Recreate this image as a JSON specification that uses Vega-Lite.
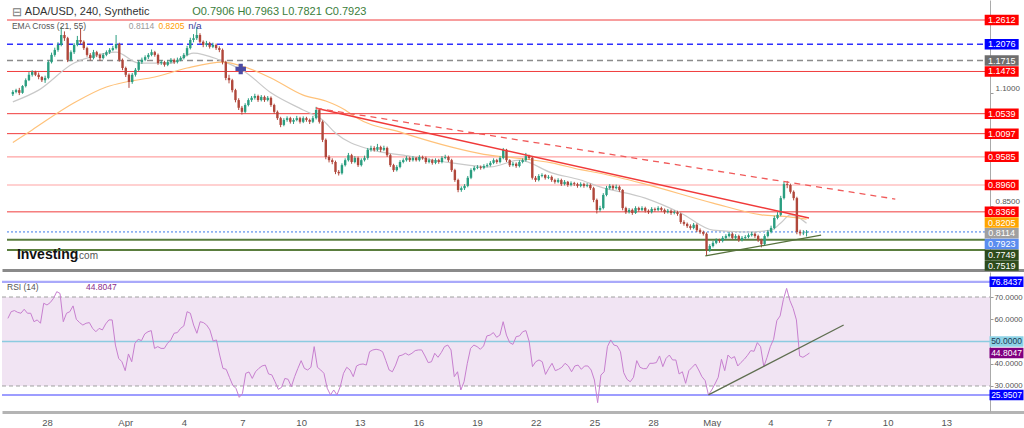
{
"$schema":"https://vega.github.io/schema/vega-lite/v6.json",
"padding":0,"background":"white","spacing":2,"bounds":"flush",
"resolve":{"scale":{"stroke":"independent","fill":"independent","strokeWidth":"independent","strokeDash":"independent","color":"independent"}},
"config":{"view":{"stroke":null},"font":"Liberation Sans","axis":{"grid":false}},
"datasets":{
"candles":[
{"t":"2018-03-26T00:00","o":1.097,"h":1.106,"l":1.093,"c":1.102,"r":60.4},
{"t":"2018-03-26T04:00","o":1.102,"h":1.109,"l":1.099,"c":1.106,"r":63.4},
{"t":"2018-03-26T08:00","o":1.106,"h":1.111,"l":1.095,"c":1.100,"r":63.9},
{"t":"2018-03-26T12:00","o":1.100,"h":1.117,"l":1.098,"c":1.115,"r":63.1},
{"t":"2018-03-26T16:00","o":1.115,"h":1.132,"l":1.112,"c":1.128,"r":62.7},
{"t":"2018-03-26T20:00","o":1.128,"h":1.146,"l":1.126,"c":1.140,"r":64.5},
{"t":"2018-03-27T00:00","o":1.140,"h":1.150,"l":1.136,"c":1.146,"r":62.7},
{"t":"2018-03-27T04:00","o":1.146,"h":1.149,"l":1.137,"c":1.140,"r":62.7},
{"t":"2018-03-27T08:00","o":1.140,"h":1.145,"l":1.130,"c":1.135,"r":58.9},
{"t":"2018-03-27T12:00","o":1.135,"h":1.137,"l":1.124,"c":1.128,"r":59.7},
{"t":"2018-03-27T16:00","o":1.128,"h":1.138,"l":1.122,"c":1.133,"r":58.2},
{"t":"2018-03-27T20:00","o":1.133,"h":1.172,"l":1.130,"c":1.168,"r":67.2},
{"t":"2018-03-28T00:00","o":1.168,"h":1.189,"l":1.165,"c":1.184,"r":66.4},
{"t":"2018-03-28T04:00","o":1.184,"h":1.200,"l":1.180,"c":1.195,"r":67.5},
{"t":"2018-03-28T08:00","o":1.195,"h":1.212,"l":1.191,"c":1.206,"r":69.4},
{"t":"2018-03-28T12:00","o":1.206,"h":1.246,"l":1.203,"c":1.228,"r":72.4},
{"t":"2018-03-28T16:00","o":1.228,"h":1.236,"l":1.215,"c":1.221,"r":71.6},
{"t":"2018-03-28T20:00","o":1.221,"h":1.224,"l":1.168,"c":1.173,"r":58.9},
{"t":"2018-03-29T00:00","o":1.173,"h":1.194,"l":1.170,"c":1.190,"r":62.7},
{"t":"2018-03-29T04:00","o":1.190,"h":1.210,"l":1.186,"c":1.206,"r":63.4},
{"t":"2018-03-29T08:00","o":1.206,"h":1.226,"l":1.203,"c":1.217,"r":66.0},
{"t":"2018-03-29T12:00","o":1.217,"h":1.243,"l":1.208,"c":1.213,"r":60.0},
{"t":"2018-03-29T16:00","o":1.213,"h":1.216,"l":1.195,"c":1.199,"r":58.5},
{"t":"2018-03-29T20:00","o":1.199,"h":1.202,"l":1.180,"c":1.184,"r":57.4},
{"t":"2018-03-30T00:00","o":1.184,"h":1.188,"l":1.172,"c":1.177,"r":58.2},
{"t":"2018-03-30T04:00","o":1.177,"h":1.195,"l":1.174,"c":1.190,"r":58.5},
{"t":"2018-03-30T08:00","o":1.190,"h":1.193,"l":1.179,"c":1.184,"r":55.9},
{"t":"2018-03-30T12:00","o":1.184,"h":1.187,"l":1.171,"c":1.177,"r":54.4},
{"t":"2018-03-30T16:00","o":1.177,"h":1.188,"l":1.174,"c":1.184,"r":55.9},
{"t":"2018-03-30T20:00","o":1.184,"h":1.194,"l":1.181,"c":1.190,"r":55.2},
{"t":"2018-03-31T00:00","o":1.190,"h":1.199,"l":1.186,"c":1.195,"r":57.9},
{"t":"2018-03-31T04:00","o":1.195,"h":1.204,"l":1.192,"c":1.199,"r":59.7},
{"t":"2018-03-31T08:00","o":1.199,"h":1.228,"l":1.196,"c":1.208,"r":59.7},
{"t":"2018-03-31T12:00","o":1.208,"h":1.211,"l":1.169,"c":1.173,"r":48.4},
{"t":"2018-03-31T16:00","o":1.173,"h":1.176,"l":1.150,"c":1.155,"r":42.4},
{"t":"2018-03-31T20:00","o":1.155,"h":1.158,"l":1.135,"c":1.140,"r":40.9},
{"t":"2018-04-01T00:00","o":1.140,"h":1.143,"l":1.111,"c":1.124,"r":36.9},
{"t":"2018-04-01T04:00","o":1.124,"h":1.144,"l":1.120,"c":1.140,"r":44.4},
{"t":"2018-04-01T08:00","o":1.140,"h":1.155,"l":1.136,"c":1.151,"r":40.9},
{"t":"2018-04-01T12:00","o":1.151,"h":1.172,"l":1.148,"c":1.168,"r":49.2},
{"t":"2018-04-01T16:00","o":1.168,"h":1.178,"l":1.164,"c":1.173,"r":51.0},
{"t":"2018-04-01T20:00","o":1.173,"h":1.183,"l":1.170,"c":1.179,"r":50.4},
{"t":"2018-04-02T00:00","o":1.179,"h":1.188,"l":1.175,"c":1.184,"r":53.4},
{"t":"2018-04-02T04:00","o":1.184,"h":1.196,"l":1.181,"c":1.190,"r":54.4},
{"t":"2018-04-02T08:00","o":1.190,"h":1.193,"l":1.180,"c":1.184,"r":54.9},
{"t":"2018-04-02T12:00","o":1.184,"h":1.187,"l":1.162,"c":1.166,"r":46.9},
{"t":"2018-04-02T16:00","o":1.166,"h":1.172,"l":1.162,"c":1.168,"r":47.7},
{"t":"2018-04-02T20:00","o":1.168,"h":1.171,"l":1.158,"c":1.162,"r":46.9},
{"t":"2018-04-03T00:00","o":1.162,"h":1.172,"l":1.159,"c":1.168,"r":46.9},
{"t":"2018-04-03T04:00","o":1.168,"h":1.177,"l":1.165,"c":1.173,"r":49.2},
{"t":"2018-04-03T08:00","o":1.173,"h":1.176,"l":1.164,"c":1.168,"r":50.7},
{"t":"2018-04-03T12:00","o":1.168,"h":1.178,"l":1.165,"c":1.173,"r":53.7},
{"t":"2018-04-03T16:00","o":1.173,"h":1.181,"l":1.170,"c":1.177,"r":54.0},
{"t":"2018-04-03T20:00","o":1.177,"h":1.188,"l":1.174,"c":1.184,"r":55.9},
{"t":"2018-04-04T00:00","o":1.184,"h":1.204,"l":1.181,"c":1.199,"r":57.0},
{"t":"2018-04-04T04:00","o":1.199,"h":1.222,"l":1.196,"c":1.217,"r":63.4},
{"t":"2018-04-04T08:00","o":1.217,"h":1.230,"l":1.212,"c":1.221,"r":62.7},
{"t":"2018-04-04T12:00","o":1.221,"h":1.246,"l":1.217,"c":1.228,"r":57.4},
{"t":"2018-04-04T16:00","o":1.228,"h":1.232,"l":1.209,"c":1.213,"r":53.7},
{"t":"2018-04-04T20:00","o":1.213,"h":1.216,"l":1.201,"c":1.206,"r":58.9},
{"t":"2018-04-05T00:00","o":1.206,"h":1.215,"l":1.202,"c":1.210,"r":58.5},
{"t":"2018-04-05T04:00","o":1.210,"h":1.213,"l":1.198,"c":1.202,"r":57.4},
{"t":"2018-04-05T08:00","o":1.202,"h":1.211,"l":1.199,"c":1.206,"r":55.2},
{"t":"2018-04-05T12:00","o":1.206,"h":1.209,"l":1.195,"c":1.199,"r":50.2},
{"t":"2018-04-05T16:00","o":1.199,"h":1.203,"l":1.190,"c":1.195,"r":50.7},
{"t":"2018-04-05T20:00","o":1.195,"h":1.198,"l":1.163,"c":1.168,"r":43.9},
{"t":"2018-04-06T00:00","o":1.168,"h":1.171,"l":1.128,"c":1.133,"r":37.9},
{"t":"2018-04-06T04:00","o":1.133,"h":1.140,"l":1.121,"c":1.128,"r":37.5},
{"t":"2018-04-06T08:00","o":1.128,"h":1.131,"l":1.101,"c":1.106,"r":33.9},
{"t":"2018-04-06T12:00","o":1.106,"h":1.109,"l":1.079,"c":1.084,"r":30.4},
{"t":"2018-04-06T16:00","o":1.084,"h":1.088,"l":1.062,"c":1.067,"r":28.9},
{"t":"2018-04-06T20:00","o":1.067,"h":1.071,"l":1.052,"c":1.058,"r":24.9},
{"t":"2018-04-07T00:00","o":1.058,"h":1.077,"l":1.055,"c":1.073,"r":26.7},
{"t":"2018-04-07T04:00","o":1.073,"h":1.088,"l":1.070,"c":1.084,"r":35.7},
{"t":"2018-04-07T08:00","o":1.084,"h":1.093,"l":1.080,"c":1.089,"r":36.3},
{"t":"2018-04-07T12:00","o":1.089,"h":1.098,"l":1.085,"c":1.093,"r":33.4},
{"t":"2018-04-07T16:00","o":1.093,"h":1.096,"l":1.080,"c":1.084,"r":36.4},
{"t":"2018-04-07T20:00","o":1.084,"h":1.095,"l":1.081,"c":1.091,"r":37.9},
{"t":"2018-04-08T00:00","o":1.091,"h":1.094,"l":1.080,"c":1.084,"r":39.0},
{"t":"2018-04-08T04:00","o":1.084,"h":1.093,"l":1.081,"c":1.089,"r":39.4},
{"t":"2018-04-08T08:00","o":1.089,"h":1.092,"l":1.069,"c":1.073,"r":35.4},
{"t":"2018-04-08T12:00","o":1.073,"h":1.076,"l":1.054,"c":1.058,"r":35.0},
{"t":"2018-04-08T16:00","o":1.058,"h":1.061,"l":1.040,"c":1.044,"r":31.9},
{"t":"2018-04-08T20:00","o":1.044,"h":1.047,"l":1.024,"c":1.029,"r":28.5},
{"t":"2018-04-09T00:00","o":1.029,"h":1.044,"l":1.026,"c":1.040,"r":29.4},
{"t":"2018-04-09T04:00","o":1.040,"h":1.048,"l":1.036,"c":1.044,"r":33.4},
{"t":"2018-04-09T08:00","o":1.044,"h":1.047,"l":1.032,"c":1.036,"r":33.0},
{"t":"2018-04-09T12:00","o":1.036,"h":1.044,"l":1.031,"c":1.040,"r":29.7},
{"t":"2018-04-09T16:00","o":1.040,"h":1.049,"l":1.037,"c":1.044,"r":34.2},
{"t":"2018-04-09T20:00","o":1.044,"h":1.047,"l":1.032,"c":1.036,"r":37.9},
{"t":"2018-04-10T00:00","o":1.036,"h":1.048,"l":1.033,"c":1.044,"r":41.4},
{"t":"2018-04-10T04:00","o":1.044,"h":1.047,"l":1.036,"c":1.040,"r":37.9},
{"t":"2018-04-10T08:00","o":1.040,"h":1.043,"l":1.031,"c":1.036,"r":37.2},
{"t":"2018-04-10T12:00","o":1.036,"h":1.049,"l":1.033,"c":1.044,"r":38.4},
{"t":"2018-04-10T16:00","o":1.044,"h":1.069,"l":1.041,"c":1.062,"r":47.7},
{"t":"2018-04-10T20:00","o":1.062,"h":1.065,"l":1.032,"c":1.036,"r":38.4},
{"t":"2018-04-11T00:00","o":1.036,"h":1.039,"l":0.991,"c":0.996,"r":37.2},
{"t":"2018-04-11T04:00","o":0.996,"h":0.999,"l":0.953,"c":0.958,"r":35.7},
{"t":"2018-04-11T08:00","o":0.958,"h":0.962,"l":0.946,"c":0.951,"r":29.0},
{"t":"2018-04-11T12:00","o":0.951,"h":0.955,"l":0.942,"c":0.947,"r":26.0},
{"t":"2018-04-11T16:00","o":0.947,"h":0.950,"l":0.920,"c":0.925,"r":28.2},
{"t":"2018-04-11T20:00","o":0.925,"h":0.929,"l":0.917,"c":0.922,"r":26.0},
{"t":"2018-04-12T00:00","o":0.922,"h":0.944,"l":0.919,"c":0.940,"r":29.7},
{"t":"2018-04-12T04:00","o":0.940,"h":0.955,"l":0.937,"c":0.951,"r":35.7},
{"t":"2018-04-12T08:00","o":0.951,"h":0.967,"l":0.948,"c":0.962,"r":38.4},
{"t":"2018-04-12T12:00","o":0.962,"h":0.965,"l":0.943,"c":0.947,"r":37.2},
{"t":"2018-04-12T16:00","o":0.947,"h":0.960,"l":0.944,"c":0.956,"r":34.2},
{"t":"2018-04-12T20:00","o":0.956,"h":0.959,"l":0.936,"c":0.940,"r":39.0},
{"t":"2018-04-13T00:00","o":0.940,"h":0.955,"l":0.937,"c":0.951,"r":39.7},
{"t":"2018-04-13T04:00","o":0.951,"h":0.961,"l":0.948,"c":0.956,"r":39.9},
{"t":"2018-04-13T08:00","o":0.956,"h":0.978,"l":0.952,"c":0.974,"r":39.4},
{"t":"2018-04-13T12:00","o":0.974,"h":0.983,"l":0.970,"c":0.978,"r":45.4},
{"t":"2018-04-13T16:00","o":0.978,"h":0.982,"l":0.970,"c":0.974,"r":46.2},
{"t":"2018-04-13T20:00","o":0.974,"h":0.987,"l":0.971,"c":0.980,"r":46.5},
{"t":"2018-04-14T00:00","o":0.980,"h":0.983,"l":0.969,"c":0.974,"r":46.2},
{"t":"2018-04-14T04:00","o":0.974,"h":0.983,"l":0.971,"c":0.978,"r":45.4},
{"t":"2018-04-14T08:00","o":0.978,"h":0.981,"l":0.958,"c":0.962,"r":41.4},
{"t":"2018-04-14T12:00","o":0.962,"h":0.965,"l":0.936,"c":0.940,"r":37.2},
{"t":"2018-04-14T16:00","o":0.940,"h":0.943,"l":0.925,"c":0.929,"r":36.4},
{"t":"2018-04-14T20:00","o":0.929,"h":0.940,"l":0.926,"c":0.936,"r":39.4},
{"t":"2018-04-15T00:00","o":0.936,"h":0.951,"l":0.933,"c":0.947,"r":43.5},
{"t":"2018-04-15T04:00","o":0.947,"h":0.955,"l":0.944,"c":0.951,"r":43.9},
{"t":"2018-04-15T08:00","o":0.951,"h":0.960,"l":0.948,"c":0.956,"r":44.7},
{"t":"2018-04-15T12:00","o":0.956,"h":0.959,"l":0.947,"c":0.951,"r":43.9},
{"t":"2018-04-15T16:00","o":0.951,"h":0.960,"l":0.948,"c":0.956,"r":44.7},
{"t":"2018-04-15T20:00","o":0.956,"h":0.958,"l":0.948,"c":0.951,"r":45.9},
{"t":"2018-04-16T00:00","o":0.951,"h":0.962,"l":0.948,"c":0.958,"r":46.2},
{"t":"2018-04-16T04:00","o":0.958,"h":0.961,"l":0.952,"c":0.956,"r":46.2},
{"t":"2018-04-16T08:00","o":0.956,"h":0.959,"l":0.943,"c":0.947,"r":43.5},
{"t":"2018-04-16T12:00","o":0.947,"h":0.955,"l":0.944,"c":0.951,"r":40.5},
{"t":"2018-04-16T16:00","o":0.951,"h":0.954,"l":0.941,"c":0.945,"r":40.9},
{"t":"2018-04-16T20:00","o":0.945,"h":0.955,"l":0.942,"c":0.951,"r":44.7},
{"t":"2018-04-17T00:00","o":0.951,"h":0.954,"l":0.943,"c":0.947,"r":42.9},
{"t":"2018-04-17T04:00","o":0.947,"h":0.960,"l":0.944,"c":0.956,"r":45.0},
{"t":"2018-04-17T08:00","o":0.956,"h":0.963,"l":0.953,"c":0.958,"r":47.7},
{"t":"2018-04-17T12:00","o":0.958,"h":0.961,"l":0.947,"c":0.951,"r":48.4},
{"t":"2018-04-17T16:00","o":0.951,"h":0.954,"l":0.925,"c":0.929,"r":46.2},
{"t":"2018-04-17T20:00","o":0.929,"h":0.932,"l":0.903,"c":0.907,"r":34.2},
{"t":"2018-04-18T00:00","o":0.907,"h":0.910,"l":0.880,"c":0.885,"r":36.4},
{"t":"2018-04-18T04:00","o":0.885,"h":0.893,"l":0.881,"c":0.889,"r":28.2},
{"t":"2018-04-18T08:00","o":0.889,"h":0.898,"l":0.885,"c":0.894,"r":31.9},
{"t":"2018-04-18T12:00","o":0.894,"h":0.916,"l":0.891,"c":0.912,"r":40.2},
{"t":"2018-04-18T16:00","o":0.912,"h":0.933,"l":0.909,"c":0.929,"r":46.9},
{"t":"2018-04-18T20:00","o":0.929,"h":0.938,"l":0.926,"c":0.934,"r":48.4},
{"t":"2018-04-19T00:00","o":0.934,"h":0.940,"l":0.931,"c":0.936,"r":47.7},
{"t":"2018-04-19T04:00","o":0.936,"h":0.939,"l":0.930,"c":0.934,"r":46.5},
{"t":"2018-04-19T08:00","o":0.934,"h":0.942,"l":0.931,"c":0.938,"r":48.0},
{"t":"2018-04-19T12:00","o":0.938,"h":0.944,"l":0.935,"c":0.940,"r":52.5},
{"t":"2018-04-19T16:00","o":0.940,"h":0.949,"l":0.937,"c":0.945,"r":52.9},
{"t":"2018-04-19T20:00","o":0.945,"h":0.955,"l":0.942,"c":0.951,"r":54.0},
{"t":"2018-04-20T00:00","o":0.951,"h":0.954,"l":0.943,"c":0.947,"r":51.9},
{"t":"2018-04-20T04:00","o":0.947,"h":0.960,"l":0.944,"c":0.956,"r":52.9},
{"t":"2018-04-20T08:00","o":0.956,"h":0.978,"l":0.953,"c":0.974,"r":58.9},
{"t":"2018-04-20T12:00","o":0.974,"h":0.976,"l":0.947,"c":0.951,"r":52.9},
{"t":"2018-04-20T16:00","o":0.951,"h":0.953,"l":0.936,"c":0.940,"r":49.5},
{"t":"2018-04-20T20:00","o":0.940,"h":0.947,"l":0.937,"c":0.943,"r":48.7},
{"t":"2018-04-21T00:00","o":0.943,"h":0.946,"l":0.934,"c":0.938,"r":52.2},
{"t":"2018-04-21T04:00","o":0.938,"h":0.951,"l":0.935,"c":0.947,"r":52.5},
{"t":"2018-04-21T08:00","o":0.947,"h":0.955,"l":0.944,"c":0.951,"r":54.4},
{"t":"2018-04-21T12:00","o":0.951,"h":0.967,"l":0.948,"c":0.960,"r":54.9},
{"t":"2018-04-21T16:00","o":0.960,"h":0.963,"l":0.952,"c":0.956,"r":49.9},
{"t":"2018-04-21T20:00","o":0.956,"h":0.958,"l":0.908,"c":0.912,"r":38.7},
{"t":"2018-04-22T00:00","o":0.912,"h":0.916,"l":0.903,"c":0.907,"r":40.9},
{"t":"2018-04-22T04:00","o":0.907,"h":0.920,"l":0.904,"c":0.916,"r":41.7},
{"t":"2018-04-22T08:00","o":0.916,"h":0.922,"l":0.913,"c":0.918,"r":40.9},
{"t":"2018-04-22T12:00","o":0.918,"h":0.920,"l":0.908,"c":0.912,"r":35.2},
{"t":"2018-04-22T16:00","o":0.912,"h":0.918,"l":0.909,"c":0.914,"r":37.9},
{"t":"2018-04-22T20:00","o":0.914,"h":0.917,"l":0.903,"c":0.907,"r":40.2},
{"t":"2018-04-23T00:00","o":0.907,"h":0.910,"l":0.899,"c":0.903,"r":36.9},
{"t":"2018-04-23T04:00","o":0.903,"h":0.911,"l":0.900,"c":0.907,"r":37.5},
{"t":"2018-04-23T08:00","o":0.907,"h":0.910,"l":0.894,"c":0.898,"r":38.4},
{"t":"2018-04-23T12:00","o":0.898,"h":0.907,"l":0.895,"c":0.903,"r":40.2},
{"t":"2018-04-23T16:00","o":0.903,"h":0.905,"l":0.892,"c":0.896,"r":39.0},
{"t":"2018-04-23T20:00","o":0.896,"h":0.904,"l":0.893,"c":0.900,"r":36.4},
{"t":"2018-04-24T00:00","o":0.900,"h":0.903,"l":0.894,"c":0.898,"r":39.0},
{"t":"2018-04-24T04:00","o":0.898,"h":0.901,"l":0.890,"c":0.894,"r":39.4},
{"t":"2018-04-24T08:00","o":0.894,"h":0.902,"l":0.891,"c":0.898,"r":37.5},
{"t":"2018-04-24T12:00","o":0.898,"h":0.901,"l":0.890,"c":0.894,"r":39.0},
{"t":"2018-04-24T16:00","o":0.894,"h":0.900,"l":0.891,"c":0.896,"r":39.0},
{"t":"2018-04-24T20:00","o":0.896,"h":0.899,"l":0.885,"c":0.889,"r":37.2},
{"t":"2018-04-25T00:00","o":0.889,"h":0.892,"l":0.858,"c":0.863,"r":32.7},
{"t":"2018-04-25T04:00","o":0.863,"h":0.866,"l":0.833,"c":0.841,"r":22.5},
{"t":"2018-04-25T08:00","o":0.841,"h":0.850,"l":0.837,"c":0.845,"r":34.9},
{"t":"2018-04-25T12:00","o":0.845,"h":0.878,"l":0.842,"c":0.874,"r":36.4},
{"t":"2018-04-25T16:00","o":0.874,"h":0.894,"l":0.871,"c":0.889,"r":47.7},
{"t":"2018-04-25T20:00","o":0.889,"h":0.898,"l":0.886,"c":0.894,"r":50.7},
{"t":"2018-04-26T00:00","o":0.894,"h":0.897,"l":0.885,"c":0.889,"r":48.4},
{"t":"2018-04-26T04:00","o":0.889,"h":0.897,"l":0.886,"c":0.892,"r":48.0},
{"t":"2018-04-26T08:00","o":0.892,"h":0.895,"l":0.881,"c":0.885,"r":45.4},
{"t":"2018-04-26T12:00","o":0.885,"h":0.887,"l":0.840,"c":0.845,"r":36.0},
{"t":"2018-04-26T16:00","o":0.845,"h":0.848,"l":0.832,"c":0.836,"r":33.0},
{"t":"2018-04-26T20:00","o":0.836,"h":0.845,"l":0.833,"c":0.841,"r":31.9},
{"t":"2018-04-27T00:00","o":0.841,"h":0.844,"l":0.830,"c":0.834,"r":33.9},
{"t":"2018-04-27T04:00","o":0.834,"h":0.849,"l":0.832,"c":0.845,"r":41.4},
{"t":"2018-04-27T08:00","o":0.845,"h":0.848,"l":0.837,"c":0.841,"r":38.4},
{"t":"2018-04-27T12:00","o":0.841,"h":0.849,"l":0.838,"c":0.845,"r":37.8},
{"t":"2018-04-27T16:00","o":0.845,"h":0.848,"l":0.835,"c":0.839,"r":37.8},
{"t":"2018-04-27T20:00","o":0.839,"h":0.842,"l":0.832,"c":0.836,"r":40.2},
{"t":"2018-04-28T00:00","o":0.836,"h":0.847,"l":0.833,"c":0.843,"r":40.2},
{"t":"2018-04-28T04:00","o":0.843,"h":0.846,"l":0.837,"c":0.841,"r":40.5},
{"t":"2018-04-28T08:00","o":0.841,"h":0.849,"l":0.838,"c":0.845,"r":43.5},
{"t":"2018-04-28T12:00","o":0.845,"h":0.848,"l":0.837,"c":0.841,"r":38.7},
{"t":"2018-04-28T16:00","o":0.841,"h":0.844,"l":0.832,"c":0.836,"r":42.4},
{"t":"2018-04-28T20:00","o":0.836,"h":0.843,"l":0.833,"c":0.839,"r":43.9},
{"t":"2018-04-29T00:00","o":0.839,"h":0.842,"l":0.830,"c":0.834,"r":41.7},
{"t":"2018-04-29T04:00","o":0.834,"h":0.840,"l":0.831,"c":0.836,"r":41.7},
{"t":"2018-04-29T08:00","o":0.836,"h":0.839,"l":0.828,"c":0.832,"r":35.4},
{"t":"2018-04-29T12:00","o":0.832,"h":0.835,"l":0.810,"c":0.814,"r":36.4},
{"t":"2018-04-29T16:00","o":0.814,"h":0.818,"l":0.806,"c":0.810,"r":31.2},
{"t":"2018-04-29T20:00","o":0.810,"h":0.813,"l":0.801,"c":0.805,"r":36.9},
{"t":"2018-04-30T00:00","o":0.805,"h":0.809,"l":0.797,"c":0.801,"r":38.4},
{"t":"2018-04-30T04:00","o":0.801,"h":0.812,"l":0.798,"c":0.808,"r":39.9},
{"t":"2018-04-30T08:00","o":0.808,"h":0.811,"l":0.792,"c":0.796,"r":37.2},
{"t":"2018-04-30T12:00","o":0.796,"h":0.800,"l":0.788,"c":0.792,"r":34.2},
{"t":"2018-04-30T16:00","o":0.792,"h":0.795,"l":0.784,"c":0.788,"r":32.4},
{"t":"2018-04-30T20:00","o":0.788,"h":0.791,"l":0.739,"c":0.752,"r":26.0},
{"t":"2018-05-01T00:00","o":0.752,"h":0.765,"l":0.748,"c":0.761,"r":28.2},
{"t":"2018-05-01T04:00","o":0.761,"h":0.772,"l":0.758,"c":0.768,"r":30.9},
{"t":"2018-05-01T08:00","o":0.768,"h":0.778,"l":0.765,"c":0.774,"r":33.9},
{"t":"2018-05-01T12:00","o":0.774,"h":0.777,"l":0.768,"c":0.772,"r":42.0},
{"t":"2018-05-01T16:00","o":0.772,"h":0.783,"l":0.769,"c":0.779,"r":36.9},
{"t":"2018-05-01T20:00","o":0.779,"h":0.787,"l":0.776,"c":0.783,"r":43.9},
{"t":"2018-05-02T00:00","o":0.783,"h":0.792,"l":0.780,"c":0.788,"r":42.4},
{"t":"2018-05-02T04:00","o":0.788,"h":0.791,"l":0.775,"c":0.779,"r":43.2},
{"t":"2018-05-02T08:00","o":0.779,"h":0.787,"l":0.776,"c":0.783,"r":39.0},
{"t":"2018-05-02T12:00","o":0.783,"h":0.786,"l":0.770,"c":0.774,"r":40.6},
{"t":"2018-05-02T16:00","o":0.774,"h":0.783,"l":0.771,"c":0.779,"r":42.0},
{"t":"2018-05-02T20:00","o":0.779,"h":0.785,"l":0.776,"c":0.781,"r":43.8},
{"t":"2018-05-03T00:00","o":0.781,"h":0.789,"l":0.778,"c":0.785,"r":45.9},
{"t":"2018-05-03T04:00","o":0.785,"h":0.792,"l":0.782,"c":0.788,"r":45.6},
{"t":"2018-05-03T08:00","o":0.788,"h":0.791,"l":0.779,"c":0.783,"r":49.5},
{"t":"2018-05-03T12:00","o":0.783,"h":0.786,"l":0.770,"c":0.774,"r":47.7},
{"t":"2018-05-03T16:00","o":0.774,"h":0.777,"l":0.758,"c":0.765,"r":38.7},
{"t":"2018-05-03T20:00","o":0.765,"h":0.787,"l":0.762,"c":0.783,"r":42.9},
{"t":"2018-05-04T00:00","o":0.783,"h":0.796,"l":0.780,"c":0.792,"r":47.7},
{"t":"2018-05-04T04:00","o":0.792,"h":0.806,"l":0.789,"c":0.801,"r":51.0},
{"t":"2018-05-04T08:00","o":0.801,"h":0.828,"l":0.798,"c":0.823,"r":59.4},
{"t":"2018-05-04T12:00","o":0.823,"h":0.836,"l":0.820,"c":0.830,"r":61.5},
{"t":"2018-05-04T16:00","o":0.830,"h":0.872,"l":0.827,"c":0.867,"r":68.9},
{"t":"2018-05-04T20:00","o":0.867,"h":0.903,"l":0.864,"c":0.898,"r":73.9},
{"t":"2018-05-05T00:00","o":0.898,"h":0.905,"l":0.889,"c":0.896,"r":68.4},
{"t":"2018-05-05T04:00","o":0.896,"h":0.899,"l":0.877,"c":0.881,"r":64.9},
{"t":"2018-05-05T08:00","o":0.881,"h":0.884,"l":0.862,"c":0.867,"r":59.7},
{"t":"2018-05-05T12:00","o":0.867,"h":0.870,"l":0.787,"c":0.792,"r":43.5},
{"t":"2018-05-05T16:00","o":0.792,"h":0.797,"l":0.784,"c":0.789,"r":42.9},
{"t":"2018-05-05T20:00","o":0.789,"h":0.796,"l":0.785,"c":0.7906,"r":43.8},
{"t":"2018-05-06T00:00","o":0.7906,"h":0.7963,"l":0.7821,"c":0.7923,"r":44.8047}
],
"ema21":[
{"t":"2018-03-26T00:00","v":1.080},{"t":"2018-03-27T08:00","v":1.106},{"t":"2018-03-29T04:00","v":1.166},{"t":"2018-03-30T00:00","v":1.179},{"t":"2018-03-31T08:00","v":1.190},{"t":"2018-04-01T12:00","v":1.166},{"t":"2018-04-03T04:00","v":1.166},{"t":"2018-04-04T08:00","v":1.188},{"t":"2018-04-05T16:00","v":1.173},{"t":"2018-04-07T00:00","v":1.146},{"t":"2018-04-08T08:00","v":1.100},{"t":"2018-04-10T00:00","v":1.062},{"t":"2018-04-11T00:00","v":1.040},{"t":"2018-04-11T16:00","v":1.011},{"t":"2018-04-13T12:00","v":0.974},{"t":"2018-04-15T04:00","v":0.962},{"t":"2018-04-17T16:00","v":0.945},{"t":"2018-04-19T16:00","v":0.936},{"t":"2018-04-21T04:00","v":0.951},{"t":"2018-04-22T20:00","v":0.923},{"t":"2018-04-24T08:00","v":0.907},{"t":"2018-04-25T08:00","v":0.892},{"t":"2018-04-27T16:00","v":0.867},{"t":"2018-04-29T12:00","v":0.834},{"t":"2018-05-01T04:00","v":0.796},{"t":"2018-05-02T20:00","v":0.792},{"t":"2018-05-04T04:00","v":0.796},{"t":"2018-05-04T16:00","v":0.812},{"t":"2018-05-05T04:00","v":0.830},{"t":"2018-05-05T12:00","v":0.826},{"t":"2018-05-06T00:00","v":0.8114}
],
"ema55":[
{"t":"2018-03-26T00:00","v":0.990},{"t":"2018-03-27T00:00","v":1.018},{"t":"2018-03-29T04:00","v":1.078},{"t":"2018-03-30T20:00","v":1.113},{"t":"2018-03-31T20:00","v":1.124},{"t":"2018-04-02T08:00","v":1.135},{"t":"2018-04-04T00:00","v":1.155},{"t":"2018-04-05T20:00","v":1.168},{"t":"2018-04-07T00:00","v":1.157},{"t":"2018-04-08T08:00","v":1.133},{"t":"2018-04-10T00:00","v":1.095},{"t":"2018-04-11T04:00","v":1.082},{"t":"2018-04-12T04:00","v":1.062},{"t":"2018-04-12T16:00","v":1.047},{"t":"2018-04-15T04:00","v":1.011},{"t":"2018-04-17T16:00","v":0.980},{"t":"2018-04-19T08:00","v":0.964},{"t":"2018-04-21T04:00","v":0.955},{"t":"2018-04-22T20:00","v":0.945},{"t":"2018-04-24T08:00","v":0.930},{"t":"2018-04-25T08:00","v":0.922},{"t":"2018-04-27T16:00","v":0.898},{"t":"2018-05-01T04:00","v":0.856},{"t":"2018-05-03T16:00","v":0.830},{"t":"2018-05-05T00:00","v":0.826},{"t":"2018-05-06T00:00","v":0.8205}
],
"trend":[
{"g":"red","t":"2018-04-10T16:00","p":1.066},{"g":"red","t":"2018-05-06T03:00","p":0.823},
{"g":"dash","t":"2018-04-10T16:00","p":1.066},{"g":"dash","t":"2018-05-10T14:00","p":0.865},
{"g":"green","t":"2018-04-30T18:30","p":0.739},{"g":"green","t":"2018-05-06T18:00","p":0.785}
],
"rsiTrend":[{"t":"2018-04-30T20:00","v":26.0},{"t":"2018-05-07T18:00","v":57.4}],
"marker":[{"t":"2018-04-06T18:30","p":1.153}],
"tags":[
{"level":1.2612,"kind":"res"},{"level":1.2076,"kind":"blue"},{"level":1.1715,"kind":"gray"},{"level":1.1473,"kind":"res"},{"level":1.0539,"kind":"res"},{"level":1.0097,"kind":"res"},{"level":0.9585,"kind":"resl"},{"level":0.896,"kind":"resl"},{"level":0.8366,"kind":"res"},{"level":0.8205,"kind":"ema55"},{"level":0.8114,"kind":"ema21"},{"level":0.7923,"kind":"last"},{"level":0.7749,"kind":"sup"},{"level":0.7519,"kind":"sup"}
],
"rsiTags":[{"v":76.8437,"k":"ob"},{"v":50,"k":"mid"},{"v":44.8047,"k":"cur"},{"v":25.9507,"k":"os"}],
"one":[{}]
},
"vconcat":[
{
"width":1024,"height":270,
"layer":[
{"data":{"name":"tags"},"transform":[{"filter":"datum.kind != 'ema55' && datum.kind != 'ema21'"}],
 "mark":{"type":"rule"},
 "encoding":{
  "x":{"datum":{"year":2018,"month":3,"date":25,"hours":16,"minutes":46},"type":"temporal","scale":{"domain":[{"year":2018,"month":3,"date":25,"hours":16,"minutes":46},{"year":2018,"month":5,"date":17,"hours":1,"minutes":51}],"nice":false},
       "axis":{"orient":"bottom","labels":false,"ticks":false,"domain":true,"domainColor":"#8a8a8a","domainWidth":3,"title":null,"grid":false}},
  "x2":{"datum":{"year":2018,"month":5,"date":15,"hours":5,"minutes":38}},
  "y":{"field":"level","type":"quantitative","scale":{"domain":[0.7079,1.3055],"nice":false,"zero":false},
       "axis":{"orient":"right","offset":-36,"values":[0.85,1.1],"format":".4f","title":null,"tickSize":3,"tickColor":"#999","domainColor":"#aaa","labelColor":"#555","labelFontSize":8,"labelPadding":2,"labelBaseline":"bottom","grid":false}},
  "stroke":{"field":"kind","type":"nominal","legend":null,"scale":{"domain":["res","resl","blue","gray","last","sup"],"range":["#f03c3c","#ffa3a3","#2f2fff","#8c8c8c","#8fb2f2","#5a7d3e"]}},
  "strokeDash":{"field":"kind","type":"nominal","legend":null,"scale":{"domain":["res","resl","blue","gray","last","sup"],"range":[[1,0],[1,0],[6,4],[6,4],[2,2],[1,0]]}},
  "strokeWidth":{"field":"kind","type":"nominal","legend":null,"scale":{"domain":["res","resl","blue","gray","last","sup"],"range":[1,2,1,1,1,1]}}
 }},
{"data":{"name":"ema21"},"mark":{"type":"line","color":"#c9c9c9","strokeWidth":1.2,"interpolate":"monotone"},
 "encoding":{"x":{"field":"t","type":"temporal"},"y":{"field":"v","type":"quantitative"}}},
{"data":{"name":"ema55"},"mark":{"type":"line","color":"#ffc27a","strokeWidth":1.2,"interpolate":"monotone"},
 "encoding":{"x":{"field":"t","type":"temporal"},"y":{"field":"v","type":"quantitative"}}},
{"data":{"name":"candles"},"layer":[
 {"mark":{"type":"rule","strokeWidth":1},
  "encoding":{"x":{"field":"t","type":"temporal"},"y":{"field":"l","type":"quantitative"},"y2":{"field":"h"},
   "color":{"condition":{"test":"datum.c >= datum.o","value":"#2a9e80"},"value":"#b0473b"}}},
 {"mark":{"type":"bar","size":2.4},
  "encoding":{"x":{"field":"t","type":"temporal"},"y":{"field":"o","type":"quantitative"},"y2":{"field":"c"},
   "color":{"condition":{"test":"datum.c >= datum.o","value":"#2a9e80"},"value":"#b0473b"}}}
]},
{"data":{"name":"trend"},"transform":[{"filter":"datum.g == 'red'"}],"mark":{"type":"line","color":"#f03a3a","strokeWidth":1.5},
 "encoding":{"x":{"field":"t","type":"temporal"},"y":{"field":"p","type":"quantitative"}}},
{"data":{"name":"trend"},"transform":[{"filter":"datum.g == 'dash'"}],"mark":{"type":"line","color":"#f05a5a","strokeWidth":1.3,"strokeDash":[6,5]},
 "encoding":{"x":{"field":"t","type":"temporal"},"y":{"field":"p","type":"quantitative"}}},
{"data":{"name":"trend"},"transform":[{"filter":"datum.g == 'green'"}],"mark":{"type":"line","color":"#56713c","strokeWidth":1.2},
 "encoding":{"x":{"field":"t","type":"temporal"},"y":{"field":"p","type":"quantitative"}}},
{"data":{"name":"marker"},"mark":{"type":"point","shape":"cross","filled":true,"size":110,"color":"#4b4ba3","opacity":1},
 "encoding":{"x":{"field":"t","type":"temporal"},"y":{"field":"p","type":"quantitative"}}},
{"data":{"name":"tags"},
 "transform":[{"window":[{"op":"row_number","as":"rk"}],"sort":[{"field":"level","order":"descending"}]},
   {"calculate":"datum.rk < 9 ? datum.level : 0.8366 - (datum.rk - 9) * 0.0238","as":"tag"}],
 "layer":[
  {"mark":{"type":"tick","orient":"horizontal","size":34,"thickness":10.5,"opacity":1},
   "encoding":{"x":{"datum":{"year":2018,"month":5,"date":16,"hours":1,"minutes":54},"type":"temporal"},"y":{"field":"tag","type":"quantitative"},
    "fill":{"field":"kind","type":"nominal","legend":null,"scale":{"domain":["res","resl","blue","gray","last","sup","ema55","ema21"],"range":["#ff0000","#ff0000","#0000ff","#6e6e6e","#5b8def","#2d4b1c","#ffa500","#a0a0a0"]}}}},
  {"mark":{"type":"text","fontSize":9,"color":"white","align":"center","baseline":"middle"},
   "encoding":{"x":{"datum":{"year":2018,"month":5,"date":16,"hours":1,"minutes":54},"type":"temporal"},"y":{"field":"tag","type":"quantitative"},"text":{"field":"level","type":"quantitative","format":".4f"}}}
 ]},
{"data":{"name":"one"},"mark":{"type":"text","text":"⊟","align":"left","baseline":"middle","fontSize":12,"color":"#777"},
 "encoding":{"x":{"datum":{"year":2018,"month":3,"date":25,"hours":22,"minutes":54},"type":"temporal"},"y":{"datum":1.2789}}},
{"data":{"name":"one"},"mark":{"type":"text","text":"ADA/USD, 240, Synthetic","align":"left","baseline":"middle","fontSize":11,"color":"#333"},
 "encoding":{"x":{"datum":{"year":2018,"month":3,"date":26,"hours":14,"minutes":51},"type":"temporal"},"y":{"datum":1.2789}}},
{"data":{"name":"one"},"mark":{"type":"text","text":"O0.7906 H0.7963 L0.7821 C0.7923","align":"left","baseline":"middle","fontSize":11,"color":"#3b7d3b"},
 "encoding":{"x":{"datum":{"year":2018,"month":4,"date":4,"hours":6,"minutes":19},"type":"temporal"},"y":{"datum":1.2789}}},
{"data":{"name":"one"},"mark":{"type":"text","text":"EMA Cross (21, 55)","align":"left","baseline":"middle","fontSize":8.5,"color":"#555"},
 "encoding":{"x":{"datum":{"year":2018,"month":3,"date":25,"hours":22,"minutes":54},"type":"temporal"},"y":{"datum":1.248}}},
{"data":{"name":"one"},"mark":{"type":"text","text":"0.8114","align":"left","baseline":"middle","fontSize":8.5,"color":"#999"},
 "encoding":{"x":{"datum":{"year":2018,"month":3,"date":31,"hours":23,"minutes":46},"type":"temporal"},"y":{"datum":1.248}}},
{"data":{"name":"one"},"mark":{"type":"text","text":"0.8205","align":"left","baseline":"middle","fontSize":8.5,"color":"#ff9d00"},
 "encoding":{"x":{"datum":{"year":2018,"month":4,"date":2,"hours":12,"minutes":35},"type":"temporal"},"y":{"datum":1.248}}},
{"data":{"name":"one"},"mark":{"type":"text","text":"n/a","align":"left","baseline":"middle","fontSize":9.5,"color":"#3b3b9b"},
 "encoding":{"x":{"datum":{"year":2018,"month":4,"date":4,"hours":1,"minutes":25},"type":"temporal"},"y":{"datum":1.248}}},
{"data":{"name":"one"},"mark":{"type":"text","text":"Investing","align":"left","baseline":"middle","fontSize":14,"fontWeight":"bold","color":"#111"},
 "encoding":{"x":{"datum":{"year":2018,"month":3,"date":26,"hours":5,"minutes":2},"type":"temporal"},"y":{"datum":0.7411}}},
{"data":{"name":"one"},"mark":{"type":"text","text":".com","align":"left","baseline":"middle","fontSize":10,"color":"#555"},
 "encoding":{"x":{"datum":{"year":2018,"month":3,"date":29,"hours":6,"minutes":41},"type":"temporal"},"y":{"datum":0.7395}}}
]
},
{
"width":1024,"height":140,
"layer":[
{"data":{"name":"one"},"mark":{"type":"rect","color":"#f1e4f3"},
 "encoding":{
  "x":{"datum":{"year":2018,"month":3,"date":25,"hours":16,"minutes":46},"type":"temporal","scale":{"domain":[{"year":2018,"month":3,"date":25,"hours":16,"minutes":46},{"year":2018,"month":5,"date":17,"hours":1,"minutes":51}],"nice":false},
       "axis":{"orient":"bottom","values":[{"year":2018,"month":3,"date":28},{"year":2018,"month":4,"date":1},{"year":2018,"month":4,"date":4},{"year":2018,"month":4,"date":7},{"year":2018,"month":4,"date":10},{"year":2018,"month":4,"date":13},{"year":2018,"month":4,"date":16},{"year":2018,"month":4,"date":19},{"year":2018,"month":4,"date":22},{"year":2018,"month":4,"date":25},{"year":2018,"month":4,"date":28},{"year":2018,"month":5,"date":1},{"year":2018,"month":5,"date":4},{"year":2018,"month":5,"date":7},{"year":2018,"month":5,"date":10},{"year":2018,"month":5,"date":13}],
        "labelExpr":"date(datum.value) == 1 ? timeFormat(datum.value, '%b') : timeFormat(datum.value, '%-d')",
        "ticks":false,"domain":true,"domainColor":"#b4b4b4","domainWidth":3,"labelColor":"#555","labelFontSize":9.5,"labelFont":"Liberation Sans Narrow, Liberation Sans, sans-serif","labelPadding":5,"title":null,"grid":false}},
  "x2":{"datum":{"year":2018,"month":5,"date":15,"hours":5,"minutes":38}},
  "y":{"datum":30,"type":"quantitative","scale":{"domain":[18.31,81.24],"nice":false,"zero":false},
       "axis":{"orient":"right","offset":-36,"values":[30,40,60,70],"format":".4f","title":null,"tickSize":3,"tickColor":"#999","domainColor":"#aaa","labelColor":"#555","labelFontSize":7.8,"labelPadding":1,"grid":false}},
  "y2":{"datum":70}
 }},
{"data":{"name":"one"},"mark":{"type":"rule","color":"#a0a0a0","strokeDash":[4,3],"strokeWidth":1},
 "encoding":{"x":{"datum":{"year":2018,"month":3,"date":25,"hours":16,"minutes":46},"type":"temporal"},"x2":{"datum":{"year":2018,"month":5,"date":15,"hours":5,"minutes":38}},"y":{"datum":70}}},
{"data":{"name":"one"},"mark":{"type":"rule","color":"#a0a0a0","strokeDash":[4,3],"strokeWidth":1},
 "encoding":{"x":{"datum":{"year":2018,"month":3,"date":25,"hours":16,"minutes":46},"type":"temporal"},"x2":{"datum":{"year":2018,"month":5,"date":15,"hours":5,"minutes":38}},"y":{"datum":30}}},
{"data":{"name":"rsiTags"},"transform":[{"filter":"datum.k != 'cur'"}],"mark":{"type":"rule"},
 "encoding":{"x":{"datum":{"year":2018,"month":3,"date":25,"hours":16,"minutes":46},"type":"temporal"},"x2":{"datum":{"year":2018,"month":5,"date":15,"hours":5,"minutes":38}},
  "y":{"field":"v","type":"quantitative"},
  "stroke":{"field":"k","type":"nominal","legend":null,"scale":{"domain":["ob","mid","os"],"range":["#a9a9fa","#8ccbe0","#3c3cff"]}},
  "strokeWidth":{"field":"k","type":"nominal","legend":null,"scale":{"domain":["ob","mid","os"],"range":[2.2,1.2,1.5]}}}},
{"data":{"name":"candles"},"mark":{"type":"line","color":"#c77fcf","strokeWidth":1},
 "encoding":{"x":{"field":"t","type":"temporal"},"y":{"field":"r","type":"quantitative"}}},
{"data":{"name":"rsiTrend"},"mark":{"type":"line","color":"#5f6e50","strokeWidth":1.3},
 "encoding":{"x":{"field":"t","type":"temporal"},"y":{"field":"v","type":"quantitative"}}},
{"data":{"name":"rsiTags"},"layer":[
 {"mark":{"type":"tick","orient":"horizontal","size":34,"thickness":10.5,"opacity":1},
  "encoding":{"x":{"datum":{"year":2018,"month":5,"date":16,"hours":1,"minutes":54},"type":"temporal"},"y":{"field":"v","type":"quantitative"},
   "fill":{"field":"k","type":"nominal","legend":null,"scale":{"domain":["ob","mid","cur","os"],"range":["#0000ff","#8ed3e6","#800080","#0000ff"]}}}},
 {"mark":{"type":"text","fontSize":8.5,"align":"center","baseline":"middle"},
  "encoding":{"x":{"datum":{"year":2018,"month":5,"date":16,"hours":1,"minutes":54},"type":"temporal"},"y":{"field":"v","type":"quantitative"},
   "text":{"field":"v","type":"quantitative","format":".4f"},
   "color":{"condition":{"test":"datum.k == 'mid'","value":"#1d3a55"},"value":"white"}}}
]},
{"data":{"name":"one"},"mark":{"type":"text","text":"RSI (14)","align":"left","baseline":"middle","fontSize":8.5,"color":"#555"},
 "encoding":{"x":{"datum":{"year":2018,"month":3,"date":25,"hours":22,"minutes":54},"type":"temporal"},"y":{"datum":74.5}}},
{"data":{"name":"one"},"mark":{"type":"text","text":"44.8047","align":"left","baseline":"middle","fontSize":8.5,"color":"#8b2b8b"},
 "encoding":{"x":{"datum":{"year":2018,"month":3,"date":29,"hours":23,"minutes":53},"type":"temporal"},"y":{"datum":74.5}}}
]
}
]
}
